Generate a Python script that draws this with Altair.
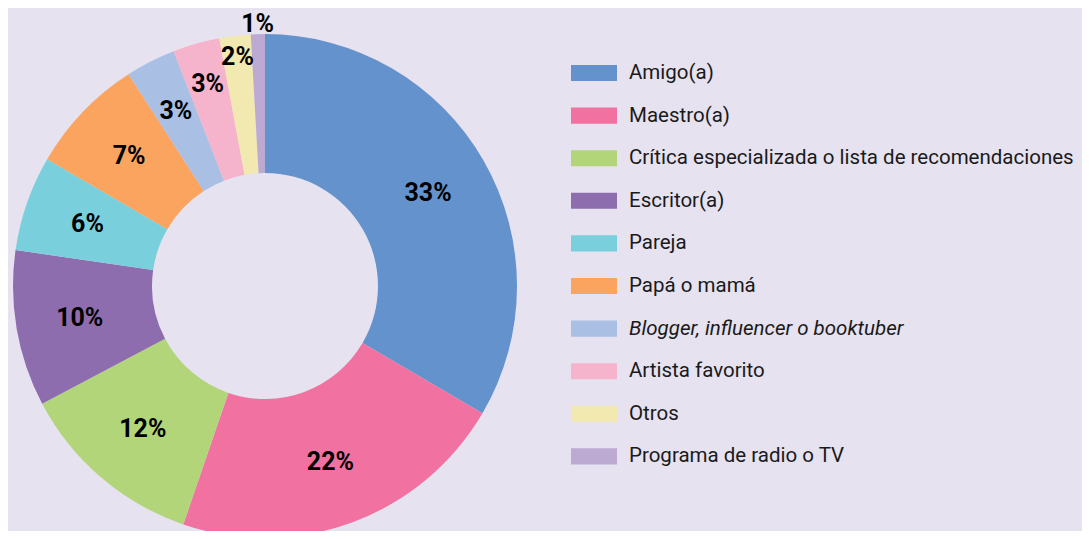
import altair as alt
import pandas as pd

categories = [
    "Amigo(a)",
    "Maestro(a)",
    "Crítica especializada o lista de recomendaciones",
    "Escritor(a)",
    "Pareja",
    "Papá o mamá",
    "Blogger, influencer o booktuber",
    "Artista favorito",
    "Otros",
    "Programa de radio o TV",
]
values = [33.4, 21.8, 12.0, 10.0, 6.1, 7.5, 3.2, 3.0, 2.0, 0.9]
labels = ["33%", "22%", "12%", "10%", "6%", "7%", "3%", "3%", "2%", "1%"]
colors = ["#6392CC", "#F172A0", "#B2D57A", "#8E6DAF", "#79CFDB",
          "#FBA45F", "#A9BFE3", "#F6B3CC", "#F1E9B0", "#BDAAD3"]

df = pd.DataFrame({
    "categoria": categories,
    "valor": values,
    "etiqueta": labels,
    "orden": list(range(len(categories))),
})

BG = "#E6E2F0"
FONT = "Roboto"

color_scale = alt.Scale(domain=categories, range=colors)

arcs = alt.Chart(df).mark_arc(outerRadius=252, innerRadius=113, stroke=None).encode(
    theta=alt.Theta("valor:Q", stack=True),
    order=alt.Order("orden:Q", sort="ascending"),
    color=alt.Color(
        "categoria:N",
        scale=color_scale,
        sort=None,
        legend=alt.Legend(
            title=None,
            orient="none",
            legendX=551,
            legendY=9,
            symbolType="M-1,-0.35L1,-0.35L1,0.35L-1,0.35Z",
            symbolSize=2116,
            symbolStrokeWidth=0,
            symbolOpacity=1,
            labelFont=FONT,
            labelFontSize=20.5,
            labelColor="#1a1a1a",
            labelLimit=600,
            labelOffset=12,
            rowPadding=8.6,
            labelFontStyle={"expr": "datum.label == 'Blogger, influencer o booktuber' ? 'italic' : 'normal'"},
        ),
    ),
)

text = alt.Chart(df).transform_window(
    acumulado="sum(valor)",
    sort=[alt.SortField("orden", order="ascending")],
    frame=[None, 0],
).transform_calculate(
    medio="datum.acumulado - datum.valor / 2",
    r="datum.valor < 1.5 ? 262 : datum.valor < 2.5 ? 231 : datum.valor < 3.1 ? 210 : datum.valor < 3.5 ? 196 : 188",
).mark_text(
    font=FONT, fontSize=25, fontWeight="bold", color="#000000"
).encode(
    theta=alt.Theta("medio:Q", stack=None),
    text="etiqueta:N",
    radius=alt.Radius("r:Q", scale=None, stack=None),
)

chart = alt.layer(arcs, text).properties(
    width=490,
    height=490,
    background=BG,
    padding={"left": 12, "top": 33, "right": 572, "bottom": 0},
    autosize=alt.AutoSizeParams(type="none"),
).configure_view(stroke=None)

chart.save("out.html", embed_options={"renderer": "svg", "actions": False})
